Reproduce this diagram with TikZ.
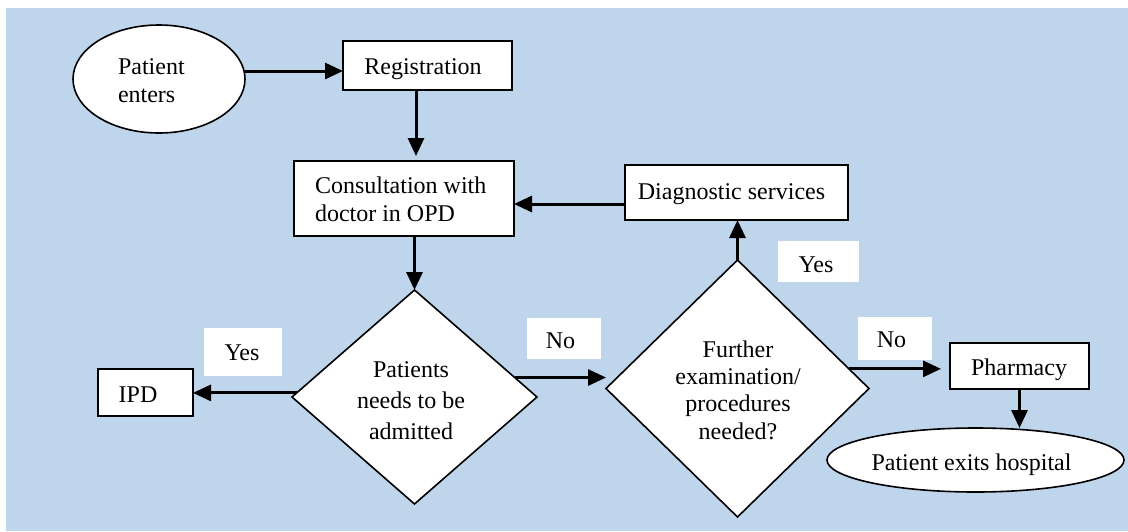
\documentclass[tikz,border=0pt]{standalone}
\usepackage{fontspec}
\setmainfont{Liberation Serif}
\usetikzlibrary{shapes.geometric,arrows.meta}
\definecolor{bgblue}{RGB}{190,213,236}
\begin{document}
\begin{tikzpicture}[x=1pt,y=-1pt,
  every node/.style={inner sep=0pt, outer sep=0pt},
  box/.style={draw, line width=1.6pt, fill=white, rectangle},
  oval/.style={draw, line width=1.6pt, fill=white, ellipse},
  decision/.style={draw, line width=1.6pt, fill=white, diamond},
  lbl/.style={fill=white},
  txt/.style={anchor=base, font=\fontsize{24}{27.3}\selectfont},
  txtl/.style={anchor=base west, font=\fontsize{24}{27.3}\selectfont},
  arr/.style={line width=3pt, -{Triangle[length=18pt,width=16pt]}}
]
\useasboundingbox (0,0) rectangle (1128,531);
\fill[white] (0,0) rectangle (1128,531);
\fill[bgblue] (6,8) rectangle (1128,531);

% shapes
\node[oval, minimum width=172pt, minimum height=108pt] (pe) at (159,79) {};
\node[box, minimum width=169pt, minimum height=49pt] (reg) at (427.5,65.5) {};
\node[box, minimum width=220pt, minimum height=75pt] (con) at (404,198.5) {};
\node[box, minimum width=223pt, minimum height=55pt] (diag) at (736.5,192.5) {};
\node[decision, minimum width=245pt, minimum height=214pt] (d1) at (414.5,397) {};
\node[decision, minimum width=263pt, minimum height=257pt] (d2) at (737.5,388.5) {};
\node[box, minimum width=95pt, minimum height=47pt] (ipd) at (145.5,392.5) {};
\node[box, minimum width=139pt, minimum height=46pt] (ph) at (1019.5,366) {};
\node[oval, minimum width=297pt, minimum height=64pt] (ex) at (975.5,460) {};

% label boxes
\node[lbl, minimum width=78pt, minimum height=48pt] (yes1) at (243,352) {};
\node[lbl, minimum width=74pt, minimum height=41pt] (no1) at (564,338.5) {};
\node[lbl, minimum width=81pt, minimum height=41pt] (yes2) at (818.5,261.5) {};
\node[lbl, minimum width=74pt, minimum height=43pt] (no2) at (895,338.5) {};

% texts
\node[txtl] (pe-t) at (118,102) {\begin{tabular}[b]{@{}l@{}}Patient\\enters\end{tabular}};
\node[txt] (reg-t) at (423,74) {Registration};
\node[txtl] (con-t) at (315,221) {\begin{tabular}[b]{@{}l@{}}Consultation with\\doctor in OPD\end{tabular}};
\node[txt] (diag-t) at (731.5,199.3) {Diagnostic services};
\node[txt, font=\fontsize{24}{31.2}\selectfont] (d1-t) at (411,439.5)
  {\begin{tabular}[b]{@{}c@{}}Patients\\needs to be\\admitted\end{tabular}};
\node[txt] (d2-t) at (738,439)
  {\begin{tabular}[b]{@{}c@{}}Further\\examination/\\procedures\\needed?\end{tabular}};
\node[txt] (ipd-t) at (138,402.3) {IPD};
\node[txt] (ph-t) at (1019,375) {Pharmacy};
\node[txt] (ex-t) at (971.5,470) {Patient exits hospital};
\node[txt] (yes1-t) at (242,360) {Yes};
\node[txt] (no1-t) at (560.5,348.3) {No};
\node[txt] (yes2-t) at (816,272.3) {Yes};
\node[txt] (no2-t) at (891.5,347.7) {No};

% helper coordinates
\coordinate (a1) at ([yshift=-5.5pt]reg.west);
\coordinate (a2) at ([xshift=-11.5pt]reg.south);
\coordinate (a3) at ([yshift=5pt]con.north);
\coordinate (a4) at ([yshift=-5.5pt]con.east);
\coordinate (a5) at ([xshift=-9pt]ph.west);

% connectors
\draw[arr] (pe.east |- a1) -- (a1);
\draw[arr] (a2) -- (a2 |- a3);
\draw[arr] (d1.north |- con.south) -- (d1.north);
\draw[arr] (diag.west |- a4) -- (a4);
\draw[arr] (d2.north) -- (d2.north |- diag.south);
\draw[arr] (d1.178) -- (d1.178 -| ipd.east);
\draw[arr] (d1.11) -- (d1.11 -| d2.west);
\draw[arr] (d2.10) -- (d2.10 -| a5);
\draw[arr] (ph.south) -- (ph.south |- ex.north);
\end{tikzpicture}
\end{document}
